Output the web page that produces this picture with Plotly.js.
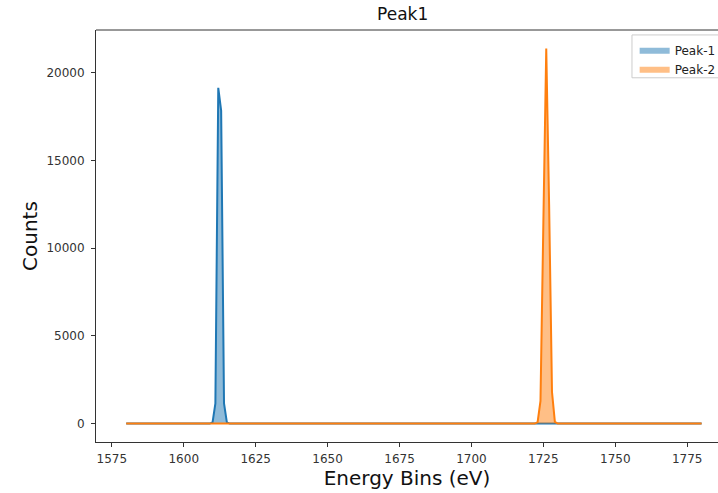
<!DOCTYPE html>
<html>
<head>
<meta charset="utf-8">
<script src="https://cdn.plot.ly/plotly-3.0.1.min.js"></script>
<style>html,body{margin:0;padding:0;background:#fff;overflow:hidden;}#chart{width:718px;height:493px;}</style>
</head>
<body>
<div id="chart"></div>
<script>
// Energy bins (eV)
const energyBins = [
  1580,1581,1582,1583,1584,1585,1586,1587,1588,1589,
  1590,1591,1592,1593,1594,1595,1596,1597,1598,1599,
  1600,1601,1602,1603,1604,1605,1606,1607,1608,1609,
  1610,1611,1612,1613,1614,1615,1616,1617,1618,1619,
  1620,1621,1622,1623,1624,1625,1626,1627,1628,1629,
  1630,1631,1632,1633,1634,1635,1636,1637,1638,1639,
  1640,1641,1642,1643,1644,1645,1646,1647,1648,1649,
  1650,1651,1652,1653,1654,1655,1656,1657,1658,1659,
  1660,1661,1662,1663,1664,1665,1666,1667,1668,1669,
  1670,1671,1672,1673,1674,1675,1676,1677,1678,1679,
  1680,1681,1682,1683,1684,1685,1686,1687,1688,1689,
  1690,1691,1692,1693,1694,1695,1696,1697,1698,1699,
  1700,1701,1702,1703,1704,1705,1706,1707,1708,1709,
  1710,1711,1712,1713,1714,1715,1716,1717,1718,1719,
  1720,1721,1722,1723,1724,1725,1726,1727,1728,1729,
  1730,1731,1732,1733,1734,1735,1736,1737,1738,1739,
  1740,1741,1742,1743,1744,1745,1746,1747,1748,1749,
  1750,1751,1752,1753,1754,1755,1756,1757,1758,1759,
  1760,1761,1762,1763,1764,1765,1766,1767,1768,1769,
  1770,1771,1772,1773,1774,1775,1776,1777,1778,1779,
  1780
];

// Counts, Peak-1
const peak1Counts = [
  0,0,0,0,0,0,0,0,0,0,
  0,0,0,0,0,0,0,0,0,0,
  0,0,0,0,0,0,0,0,0,0,
  60,1150,19150,17850,1150,60,0,0,0,0,
  0,0,0,0,0,0,0,0,0,0,
  0,0,0,0,0,0,0,0,0,0,
  0,0,0,0,0,0,0,0,0,0,
  0,0,0,0,0,0,0,0,0,0,
  0,0,0,0,0,0,0,0,0,0,
  0,0,0,0,0,0,0,0,0,0,
  0,0,0,0,0,0,0,0,0,0,
  0,0,0,0,0,0,0,0,0,0,
  0,0,0,0,0,0,0,0,0,0,
  0,0,0,0,0,0,0,0,0,0,
  0,0,0,0,0,0,0,0,0,0,
  0,0,0,0,0,0,0,0,0,0,
  0,0,0,0,0,0,0,0,0,0,
  0,0,0,0,0,0,0,0,0,0,
  0,0,0,0,0,0,0,0,0,0,
  0,0,0,0,0,0,0,0,0,0,
  0
];

// Counts, Peak-2
const peak2Counts = [
  0,0,0,0,0,0,0,0,0,0,
  0,0,0,0,0,0,0,0,0,0,
  0,0,0,0,0,0,0,0,0,0,
  0,0,0,0,0,0,0,0,0,0,
  0,0,0,0,0,0,0,0,0,0,
  0,0,0,0,0,0,0,0,0,0,
  0,0,0,0,0,0,0,0,0,0,
  0,0,0,0,0,0,0,0,0,0,
  0,0,0,0,0,0,0,0,0,0,
  0,0,0,0,0,0,0,0,0,0,
  0,0,0,0,0,0,0,0,0,0,
  0,0,0,0,0,0,0,0,0,0,
  0,0,0,0,0,0,0,0,0,0,
  0,0,0,0,0,0,0,0,0,0,
  0,0,0,80,1300,11500,21400,12500,1800,100,
  0,0,0,0,0,0,0,0,0,0,
  0,0,0,0,0,0,0,0,0,0,
  0,0,0,0,0,0,0,0,0,0,
  0,0,0,0,0,0,0,0,0,0,
  0,0,0,0,0,0,0,0,0,0,
  0
];

const seriesNames = ['Peak-1', 'Peak-2'];
const xTickVals = [1575,1600,1625,1650,1675,1700,1725,1750,1775];
const yTickVals = [0,5000,10000,15000,20000];

const blue = '#1f77b4', orange = '#ff7f0e';
const font = 'DejaVu Sans, sans-serif';

const traces = [
  {x: energyBins, y: peak1Counts, name: seriesNames[0], type: 'scatter', mode: 'none',
   fill: 'tozeroy', fillcolor: 'rgba(31,119,180,0.5)', showlegend: true},
  {x: energyBins, y: peak1Counts, name: seriesNames[0], type: 'scatter', mode: 'lines',
   line: {color: blue, width: 2}, showlegend: false},
  {x: energyBins, y: peak2Counts, name: seriesNames[1], type: 'scatter', mode: 'none',
   fill: 'tozeroy', fillcolor: 'rgba(255,127,14,0.5)', showlegend: true},
  {x: energyBins, y: peak2Counts, name: seriesNames[1], type: 'scatter', mode: 'lines',
   line: {color: orange, width: 2}, showlegend: false}
];

const layout = {
  width: 718, height: 493,
  margin: {l: 96, r: 0, t: 30, b: 51, pad: 0, autoexpand: false},
  paper_bgcolor: '#fff', plot_bgcolor: '#fff',
  font: {family: font, color: '#222', size: 12},
  title: {text: 'Peak1', font: {family: font, size: 17, color: '#111'},
          x: 0.493, xref: 'paper', xanchor: 'center', y: 0.971, yref: 'container', yanchor: 'middle'},
  xaxis: {
    range: [1569.5, 1785.7], tickvals: xTickVals, ticks: 'outside', ticklen: 4, tickwidth: 1,
    tickcolor: '#333', showline: true, linecolor: '#333', linewidth: 1, mirror: false,
    showgrid: false, zeroline: false, tickfont: {family: font, size: 12, color: '#333'},
    ticklabelstandoff: 2,
    title: {text: 'Energy Bins (eV)', font: {family: font, size: 20, color: '#111'}, standoff: 2},
    automargin: false
  },
  yaxis: {
    range: [-1050, 22450], tickvals: yTickVals, tickformat: 'd', ticks: 'outside', ticklen: 4, tickwidth: 1,
    tickcolor: '#333', showline: true, linecolor: '#333', linewidth: 1,
    showgrid: false, zeroline: false, tickfont: {family: font, size: 12, color: '#333'},
    ticklabelstandoff: 4,
    title: {text: 'Counts', font: {family: font, size: 20, color: '#111'}, standoff: 3},
    automargin: false
  },
  legend: {
    x: 0.866, y: 0.985, xanchor: 'left', yanchor: 'top',
    bgcolor: 'rgba(0,0,0,0)', borderwidth: 0,
    font: {family: font, size: 12, color: '#222'},
    tracegroupgap: 0, itemwidth: 30
  },
  shapes: [
    {type: 'line', xref: 'paper', yref: 'paper', x0: 0, x1: 1, y0: 1, y1: 1,
     line: {color: '#333', width: 1}},
    {type: 'rect', xref: 'paper', yref: 'paper', x0: 0.8617, x1: 1.06, y0: 0.884, y1: 0.988,
     line: {color: '#ccc', width: 1}, fillcolor: 'rgba(255,255,255,0.8)', layer: 'above'}
  ]
};

Plotly.newPlot('chart', traces, layout, {displayModeBar: false, staticPlot: true});
</script>
</body>
</html>
